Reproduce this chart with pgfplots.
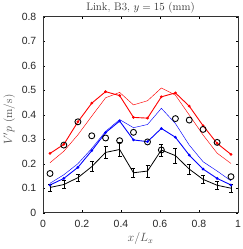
\documentclass[border=0pt]{standalone}
\usepackage{fontspec}
\setsansfont{Liberation Sans}
\usepackage{pgfplots}
\pgfplotsset{compat=1.18}
\begin{document}
\begin{tikzpicture}
\begin{axis}[
  scale only axis,
  at={(0,0)}, anchor=south west,
  width=195bp, height=196bp,
  xmin=0, xmax=1, ymin=0, ymax=0.8,
  xtick={0,0.2,0.4,0.6,0.8,1},
  ytick={0,0.1,0.2,0.3,0.4,0.5,0.6,0.7,0.8},
  xticklabels={0,0.2,0.4,0.6,0.8,1},
  yticklabels={0,0.1,0.2,0.3,0.4,0.5,0.6,0.7,0.8},
  tick align=inside,
  tick style={line width=0.4pt, black},
  major tick length=2.5pt,
  ticklabel style={font=\sffamily\fontsize{10.5}{11}\selectfont, color=black!85, inner sep=0pt},
  yticklabel style={anchor=east, xshift=-6.5bp},
  xticklabel style={anchor=north, yshift=-7bp},
  title={Link, B3, $y=15$ (mm)},
  title style={font=\fontsize{11}{12}\selectfont, color=black!80, at={(axis description cs:0.5,1.031)}, anchor=base, inner sep=0pt, yshift=-6pt},
  xlabel={$x/L_x$},
  ylabel={$V'p$ (m/s)},
  label style={font=\fontsize{11.5}{12}\selectfont, color=black!70, inner sep=0pt},
  xlabel style={at={(axis description cs:0.5,-0.148)}, anchor=base},
  ylabel style={at={(axis description cs:-0.158,0.475)}, anchor=base},
  axis line style={line width=0.5pt, black!80},
  clip=false,
]
% thin red
\addplot[red, line width=0.45pt] coordinates {
(0.036,0.204) (0.107,0.251) (0.179,0.318) (0.25,0.394) (0.321,0.469) (0.393,0.491) (0.464,0.440) (0.536,0.457) (0.607,0.509) (0.679,0.480) (0.75,0.399) (0.821,0.317) (0.893,0.243) (0.964,0.201)};
% thick red
\addplot[red, line width=0.9pt, mark=*, mark size=0.9pt] coordinates {
(0.036,0.242) (0.107,0.279) (0.179,0.371) (0.25,0.447) (0.321,0.494) (0.393,0.478) (0.464,0.389) (0.536,0.386) (0.607,0.473) (0.679,0.489) (0.75,0.435) (0.821,0.355) (0.893,0.283) (0.964,0.238)};
% thin blue
\addplot[blue, line width=0.45pt] coordinates {
(0.036,0.120) (0.107,0.155) (0.179,0.200) (0.25,0.262) (0.321,0.332) (0.393,0.380) (0.464,0.347) (0.536,0.360) (0.607,0.426) (0.679,0.364) (0.75,0.276) (0.821,0.208) (0.893,0.170) (0.964,0.130)};
% thick blue
\addplot[blue, line width=0.9pt, mark=*, mark size=0.9pt] coordinates {
(0.036,0.113) (0.107,0.140) (0.179,0.185) (0.25,0.253) (0.321,0.327) (0.393,0.374) (0.464,0.297) (0.536,0.290) (0.607,0.344) (0.679,0.308) (0.75,0.235) (0.821,0.178) (0.893,0.140) (0.964,0.113)};
% black with error bars
\addplot[black, line width=0.8pt, mark=none,
  error bars/.cd, y dir=both, y explicit,
  error bar style={line width=0.5pt},
  error mark options={rotate=90, mark size=2pt, line width=0.5pt}]
  coordinates {
(0.036,0.103) +- (0,0.015)
(0.107,0.115) +- (0,0.017)
(0.179,0.143) +- (0,0.015)
(0.25,0.188) +- (0,0.020)
(0.321,0.246) +- (0,0.025)
(0.393,0.258) +- (0,0.028)
(0.464,0.163) +- (0,0.020)
(0.536,0.170) +- (0,0.025)
(0.607,0.256) +- (0,0.025)
(0.679,0.233) +- (0,0.030)
(0.75,0.178) +- (0,0.020)
(0.821,0.136) +- (0,0.015)
(0.893,0.112) +- (0,0.015)
(0.964,0.100) +- (0,0.015)};
% circles
\addplot[only marks, mark=o, mark size=3pt, black, line width=0.9pt] coordinates {
(0.036,0.160) (0.107,0.276) (0.179,0.371) (0.25,0.314) (0.321,0.305) (0.393,0.294) (0.464,0.328) (0.536,0.289) (0.607,0.256) (0.679,0.384) (0.75,0.378) (0.821,0.340) (0.893,0.287) (0.964,0.147)};
\end{axis}
\pgfresetboundingbox
\path (-43bp,-36.3bp) rectangle (200bp,212.7bp);
\end{tikzpicture}
\end{document}
